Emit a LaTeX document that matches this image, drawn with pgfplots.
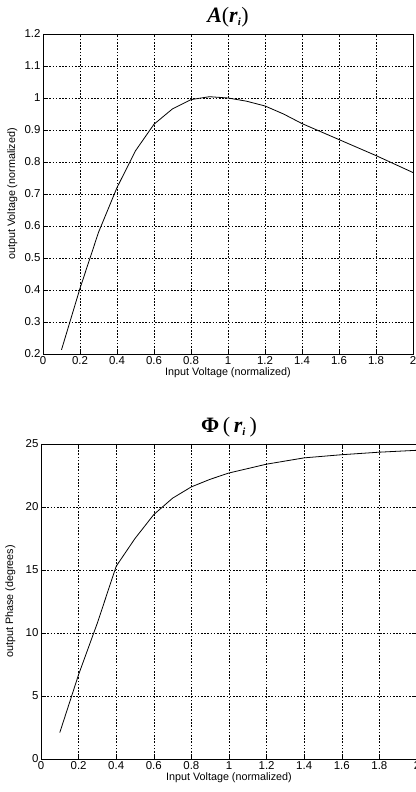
\documentclass[border=0pt]{standalone}
\usepackage{fontspec}
\setmainfont{Liberation Sans}
\newfontfamily\titlefont{Liberation Serif}
\usepackage{pgfplots}
\pgfplotsset{compat=1.18}

\pgfplotsset{
  matlab/.style={
    scale only axis,
    anchor=south west,
    xmin=0, xmax=2,
    xtick={0,0.2,0.4,0.6,0.8,1,1.2,1.4,1.6,1.8,2},
    grid=major,
    grid style={black, line width=0.6bp, dash pattern=on 1.6bp off 1.6bp},
    axis line style={black, line width=0.8bp},
    tick style={black, line width=0.6bp},
    major tick length=3bp,
    tick align=inside,
    /pgf/number format/assume math mode=true,
    ticklabel style={font=\fontsize{11.5}{12}\selectfont},
    xticklabel style={yshift=1bp},
    yticklabel style={xshift=1bp},
    label style={font=\fontsize{10.8}{11}\selectfont},
    xlabel={Input Voltage (normalized)},
    xlabel style={yshift=4bp},
    ylabel style={at={(rel axis cs:0,0.5)}, anchor=south, yshift=22bp},
    title style={yshift=-3bp},
  }
}

\begin{document}
\begin{tikzpicture}[x=1bp,y=1bp]
\useasboundingbox (0,0) rectangle (415,792);

\begin{axis}[matlab,
  at={(43bp,438bp)},
  width=370bp, height=320bp,
  ymin=0.2, ymax=1.2,
  ytick={0.2,0.3,0.4,0.5,0.6,0.7,0.8,0.9,1,1.1,1.2},
  ylabel={output Voltage (normalized)},
  title={\titlefont\fontsize{22}{22}\selectfont\textbf{\textit{A}}(\textbf{\textit{r}}\textsubscript{\fontsize{11}{11}\selectfont\textbf{\textit{i}}})},
]
\addplot[black, line width=0.8bp] coordinates {
  (0.1,0.213) (0.2,0.405) (0.3,0.58) (0.4,0.72) (0.5,0.835)
  (0.6,0.918) (0.7,0.966) (0.8,0.995) (0.9,1.004) (1.0,1.0)
  (1.1,0.99) (1.2,0.975) (1.3,0.95) (1.4,0.92) (1.6,0.87)
  (1.8,0.82) (2.0,0.767)
};
\end{axis}

\begin{axis}[matlab,
  at={(41bp,33bp)},
  width=376bp, height=315bp,
  ymin=0, ymax=25,
  ytick={0,5,10,15,20,25},
  ylabel={output Phase (degrees)},
  title={\titlefont\fontsize{22}{22}\selectfont\textbf{Φ}\,(\,\textbf{\textit{r}}\textsubscript{\fontsize{11}{11}\selectfont\textbf{\textit{i}}}\,)},
]
\addplot[black, line width=0.8bp] coordinates {
  (0.1,2.1) (0.2,6.7) (0.3,10.8) (0.4,15.3) (0.5,17.5)
  (0.6,19.4) (0.7,20.7) (0.8,21.6) (0.9,22.2) (1.0,22.7)
  (1.2,23.4) (1.4,23.9) (1.6,24.15) (1.8,24.35) (2.0,24.5)
};
\end{axis}
\end{tikzpicture}
\end{document}
